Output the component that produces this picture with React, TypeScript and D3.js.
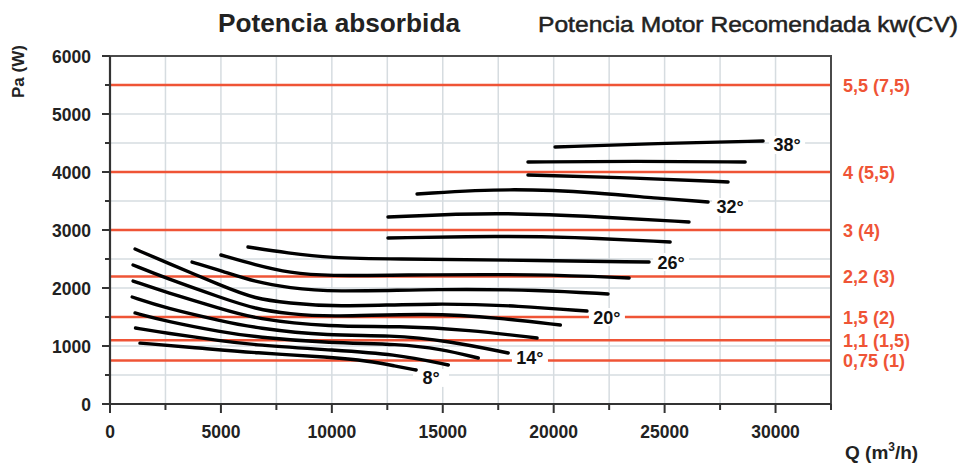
import React from "react";
import * as d3 from "d3";

// ---- data (Q in m3/h, Pa in W) ----
const curve8: [number, number][] = [[1350, 1050], [4050, 965], [6550, 880], [9900, 810], [11700, 740], [12850, 655], [13800, 586]];
const curve10: [number, number][] = [[1150, 1310], [2500, 1225], [5050, 1086], [6550, 1017], [9900, 931], [12850, 862], [15250, 672]];
const curve12: [number, number][] = [[1130, 1570], [2500, 1430], [5050, 1240], [6550, 1155], [9900, 1050], [13050, 1035], [14900, 948], [16600, 793]];
const curve14: [number, number][] = [[1000, 1845], [2500, 1655], [5050, 1430], [6550, 1310], [9900, 1172], [12600, 1190], [15300, 1086], [17950, 879]];
const curve16: [number, number][] = [[1040, 2120], [2500, 1930], [5050, 1638], [6550, 1466], [9900, 1328], [13050, 1345], [16200, 1276], [19250, 1138]];
const curve18: [number, number][] = [[1040, 2397], [2500, 2172], [5050, 1828], [6550, 1638], [8100, 1552], [9900, 1500], [14400, 1569], [17600, 1483], [20300, 1362]];
const curve20: [number, number][] = [[1130, 2672], [2500, 2448], [5050, 2034], [6550, 1810], [8100, 1741], [9900, 1672], [14900, 1741], [18500, 1690], [21500, 1603]];
const curve22: [number, number][] = [[3700, 2448], [5050, 2293], [6550, 2103], [8100, 2000], [9900, 1931], [14900, 1983], [19400, 1966], [22450, 1897]];
const curve24: [number, number][] = [[5000, 2569], [6550, 2397], [8100, 2259], [9900, 2207], [12850, 2224], [19400, 2241], [23400, 2172]];
const curve26: [number, number][] = [[6220, 2707], [8020, 2603], [9900, 2517], [12850, 2500], [17600, 2483], [24300, 2448]];
const curve28: [number, number][] = [[12530, 2862], [17700, 2897], [20700, 2879], [25250, 2793]];
const curve30: [number, number][] = [[12530, 3224], [17450, 3310], [22200, 3224], [26100, 3138]];
const curve32: [number, number][] = [[13840, 3621], [18030, 3724], [22200, 3638], [24480, 3552], [26960, 3483]];
const curve34: [number, number][] = [[18840, 3948], [23760, 3897], [27860, 3828]];
const curve36: [number, number][] = [[18840, 4172], [23760, 4190], [28630, 4172]];
const curve38: [number, number][] = [[20060, 4431], [25250, 4500], [29440, 4534]];

const curves = [curve8, curve10, curve12, curve14, curve16, curve18, curve20, curve22, curve24, curve26, curve28, curve30, curve32, curve34, curve36, curve38];

const angleLabels = ["8°", "14°", "20°", "26°", "32°", "38°"];
const angleLabelQ = [14470, 18930, 22400, 25290, 27950, 30520];
const angleLabelPa = [450, 810, 1500, 2448, 3397, 4466];

const motorPa = [5500, 4000, 3000, 2200, 1500, 1100, 750];
const motorLabels = ["5,5 (7,5)", "4 (5,5)", "3 (4)", "2,2 (3)", "1,5 (2)", "1,1 (1,5)", "0,75 (1)"];

const xMajorTicks = [0, 5000, 10000, 15000, 20000, 25000, 30000];
const yMajorTicks = [0, 1000, 2000, 3000, 4000, 5000, 6000];

const FONT = "'Liberation Sans', Arial, Helvetica, sans-serif";
const RED = "#ef5436";

export default function App() {
  const W = 963, H = 463;
  const x = d3.scaleLinear().domain([0, 32500]).range([110, 831]);
  const y = d3.scaleLinear().domain([0, 6000]).range([404, 56]);
  const xMinor = d3.range(0, 32501, 2500);
  const yMinor = d3.range(0, 6001, 500);
  const line = d3
    .line<[number, number]>()
    .x((d) => x(d[0]))
    .y((d) => y(d[1]))
    .curve(d3.curveBasis);

  return (
    <svg width={W} height={H} style={{ position: "absolute", left: 0, top: 0, background: "#fff" }} fontFamily={FONT}>
      {/* grid */}
      <g stroke="#d6dce0" strokeWidth={1.5}>
        {xMinor.filter((v) => v > 0 && v < 32500).map((v) => (
          <line key={"gx" + v} x1={x(v)} x2={x(v)} y1={y(0)} y2={y(6000)} />
        ))}
        {yMinor.filter((v) => v > 0 && v < 6000).map((v) => (
          <line key={"gy" + v} x1={x(0)} x2={x(32500)} y1={y(v)} y2={y(v)} />
        ))}
      </g>
      {/* motor power lines */}
      <g stroke={RED} strokeWidth={2.5}>
        {motorPa.map((v) => (
          <line key={"r" + v} x1={x(0)} x2={x(32500)} y1={y(v)} y2={y(v)} />
        ))}
      </g>
      {/* label backgrounds */}
      {angleLabels.map((t, i) => (
        <rect key={"bg" + t} x={x(angleLabelQ[i]) - 18} y={y(angleLabelPa[i]) - 9} width={36} height={18} fill="#fff" />
      ))}
      {/* frame */}
      <rect x={x(0)} y={y(6000)} width={x(32500) - x(0)} height={y(0) - y(6000)} fill="none" stroke="#4a4a4a" strokeWidth={2} />
      <line x1={x(0)} x2={x(0)} y1={y(0) + 1} y2={y(6000)} stroke="#333" strokeWidth={2.2} />
      <line x1={x(0)} x2={x(32500)} y1={y(0)} y2={y(0)} stroke="#333" strokeWidth={2.2} />
      {/* ticks */}
      <g stroke="#333" strokeWidth={2}>
        {xMinor.map((v) => (
          <line key={"tx" + v} x1={x(v)} x2={x(v)} y1={y(0)} y2={y(0) + (v % 5000 === 0 ? 9 : 6)} />
        ))}
        {yMinor.map((v) => (
          <line key={"ty" + v} x1={x(0)} x2={x(0) - (v % 1000 === 0 ? 8 : 5)} y1={y(v)} y2={y(v)} />
        ))}
      </g>
      {/* tick labels */}
      <g fontSize={17.5} fontWeight="bold" fill="#222">
        {xMajorTicks.map((v) => (
          <text key={"lx" + v} x={x(v)} y={y(0) + 34} textAnchor="middle">{v}</text>
        ))}
        {yMajorTicks.map((v) => (
          <text key={"ly" + v} x={x(0) - 19} y={y(v) + 7} textAnchor="end">{v}</text>
        ))}
      </g>
      {/* curves */}
      <g fill="none" stroke="#000" strokeWidth={3.4} strokeLinecap="round">
        {curves.map((c, i) => (
          <path key={"c" + i} d={line(c) || ""} />
        ))}
      </g>
      {/* angle labels */}
      <g fontSize={18} fontWeight="bold" fill="#111">
        {angleLabels.map((t, i) => (
          <text key={"al" + t} x={x(angleLabelQ[i])} y={y(angleLabelPa[i]) + 6.5} textAnchor="middle">{t}</text>
        ))}
      </g>
      {/* motor labels */}
      <g fontSize={18} fontWeight="bold" fill={RED}>
        {motorLabels.map((t, i) => (
          <text key={"ml" + t} x={843} y={y(motorPa[i]) + 6.5}>{t}</text>
        ))}
      </g>
      {/* titles */}
      <text x={218} y={32} fontSize={26} fontWeight="bold" fill="#222" textLength={242} lengthAdjust="spacingAndGlyphs">Potencia absorbida</text>
      <text x={538} y={32} fontSize={22} fill="#222" stroke="#222" strokeWidth={0.5} textLength={420} lengthAdjust="spacingAndGlyphs">Potencia Motor Recomendada kw(CV)</text>
      {/* axis titles */}
      <text transform="translate(24,98) rotate(-90)" fontSize={17} fontWeight="bold" fill="#222">Pa (W)</text>
      <text x={845} y={459} fontSize={19} fontWeight="bold" fill="#222">
        Q (m<tspan fontSize={12} dy={-8}>3</tspan><tspan dy={8}>/h)</tspan>
      </text>
    </svg>
  );
}
